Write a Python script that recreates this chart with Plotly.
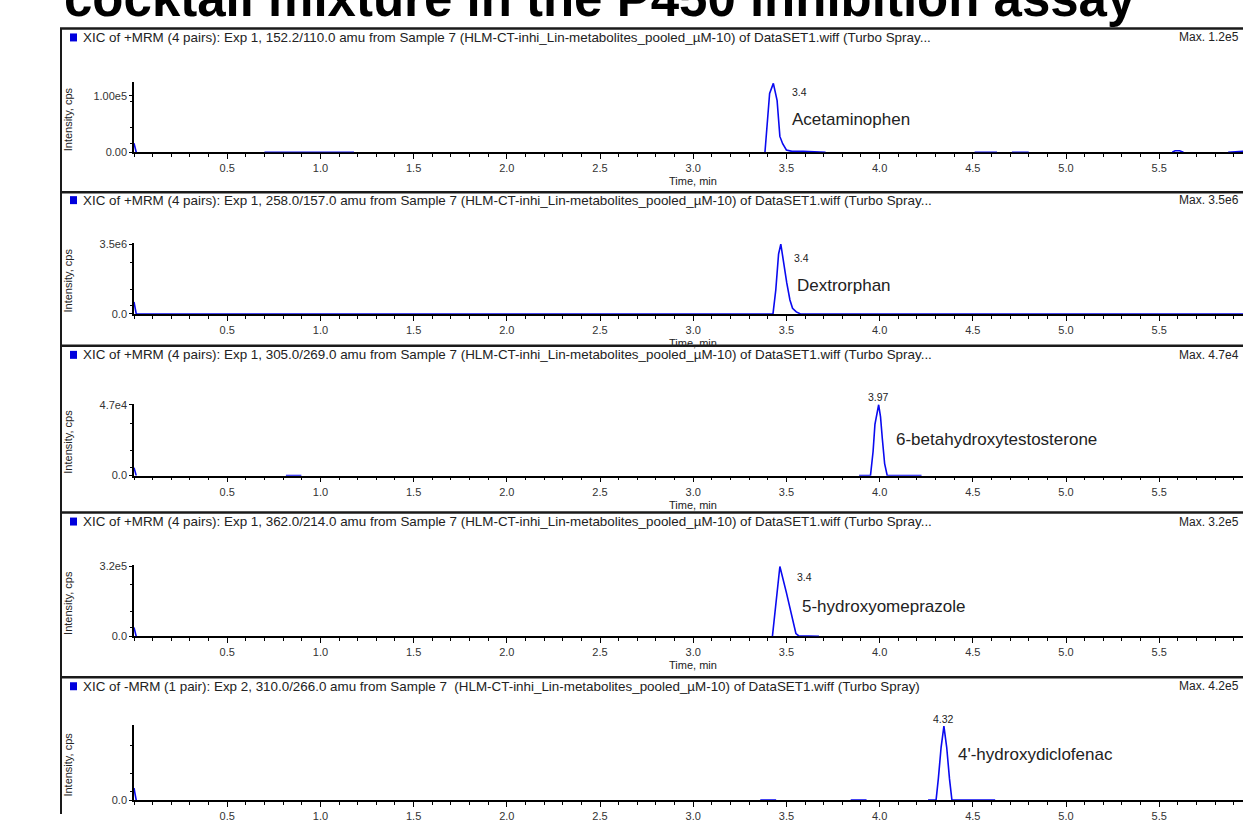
import plotly.graph_objects as go

W, H = 1243, 822

# ---------------- data ----------------
title_text = "cocktail mixture in the P450 inhibition assay"

headers = [
    "XIC of +MRM (4 pairs): Exp 1, 152.2/110.0 amu from Sample 7 (HLM-CT-inhi_Lin-metabolites_pooled_µM-10) of DataSET1.wiff (Turbo Spray...",
    "XIC of +MRM (4 pairs): Exp 1, 258.0/157.0 amu from Sample 7 (HLM-CT-inhi_Lin-metabolites_pooled_µM-10) of DataSET1.wiff (Turbo Spray...",
    "XIC of +MRM (4 pairs): Exp 1, 305.0/269.0 amu from Sample 7 (HLM-CT-inhi_Lin-metabolites_pooled_µM-10) of DataSET1.wiff (Turbo Spray...",
    "XIC of +MRM (4 pairs): Exp 1, 362.0/214.0 amu from Sample 7 (HLM-CT-inhi_Lin-metabolites_pooled_µM-10) of DataSET1.wiff (Turbo Spray...",
    "XIC of -MRM (1 pair): Exp 2, 310.0/266.0 amu from Sample 7  (HLM-CT-inhi_Lin-metabolites_pooled_µM-10) of DataSET1.wiff (Turbo Spray)",
]
max_labels = ["Max. 1.2e5", "Max. 3.5e6", "Max. 4.7e4", "Max. 3.2e5", "Max. 4.2e5"]
compounds = ["Acetaminophen", "Dextrorphan", "6-betahydroxytestosterone",
             "5-hydroxyomeprazole", "4'-hydroxydiclofenac"]
rt_labels = ["3.4", "3.4", "3.97", "3.4", "4.32"]
y_top_vals = [1.0e5, 3.5e6, 4.7e4, 3.2e5, None]
y_top_text = ["1.00e5", "3.5e6", "4.7e4", "3.2e5", ""]
y_zero_text = ["0.00", "0.0", "0.0", "0.0", "0.0"]
x_tick_vals = [0.5, 1.0, 1.5, 2.0, 2.5, 3.0, 3.5, 4.0, 4.5, 5.0, 5.5]
x_tick_text = ["0.5", "1.0", "1.5", "2.0", "2.5", "3.0", "3.5", "4.0", "4.5", "5.0", "5.5"]

# chromatograms (time, min / intensity, cps); None = trace hidden under axis line
time_1 = [0.0, 0.012, None, 0.70, 1.18, None,
          3.385, 3.396, 3.41, 3.43, 3.45, 3.465, 3.48, 3.50, 3.53, 3.59, 3.71, None,
          4.51, 4.63, None, 4.71, 4.80, None, 5.57, 5.585, 5.61, 5.63, None, 5.87, 5.95]
int_1 = [1.6e4, 0, None, 0, 0, None,
         0, 4.5e4, 1.04e5, 1.22e5, 9.2e4, 2.8e4, 1.5e4, 4e3, 1.5e3, 1.5e3, 0, None,
         0, 0, None, 0, 0, None, 0, 2.5e3, 2.5e3, 0, None, 0, 1.5e3]

time_2 = [0.0, 0.012, 0.02, 3.428, 3.443, 3.458, 3.47, 3.485, 3.502, 3.519, 3.533,
          3.553, 3.576, 5.95]
int_2 = [6.0e5, 0, 0, 0, 1.2e6, 3.0e6, 3.5e6, 2.5e6, 1.55e6, 7e5, 2.8e5, 1e5, 0, 0]

time_3 = [0.0, 0.012, None, 0.815, 0.898, None,
          3.89, 3.951, 3.965, 3.975, 3.995, 4.005, 4.015, 4.027, 4.041, 4.225]
int_3 = [5.3e3, 0, None, 0, 0, None,
         0, 0, 1.6e4, 3.4e4, 4.7e4, 3.9e4, 2.4e4, 8e3, 0, 0]

time_4 = [0.0, 0.012, None,
          3.425, 3.435, 3.445, 3.455, 3.465, 3.50, 3.533, 3.551, 3.565, 3.675]
int_4 = [4.1e4, 0, None,
         0, 8e4, 1.6e5, 2.5e5, 3.2e5, 2.0e5, 7.7e4, 1.3e4, 3e3, 0]

time_5 = [0.0, 0.012, None, 3.36, 3.445, None, 3.845, 3.93, None,
          4.26, 4.303, 4.315, 4.33, 4.345, 4.36, 4.375, 4.388, 4.62]
int_5 = [6.8e4, 0, None, 0, 0, None, 0, 0, None,
         0, 0, 1.2e5, 3.0e5, 4.2e5, 3.0e5, 1.2e5, 0, 0]

times = [time_1, time_2, time_3, time_4, time_5]
intens = [int_1, int_2, int_3, int_4, int_5]

# ---------------- layout (pixels) ----------------
sep_y = [28, 192, 346, 513, 678]
header_y = [37, 200, 355, 522, 687]
base_y = [152, 314, 476, 637, 801]
apex_y = [83, 244, 405, 567, 727]
axis_top_y = [82, 243, 404, 566, 726]
axis_left_x = 134
px_per_min = 186.4
# label offsets relative to apex (px)
rt_off = [(17, 9, "left"), (11, 14, "left"), (0, -8, "center"), (15, 11, "left"), (0, -7, "center")]
name_off = [(17, 36, "left"), (14, 41, "left"), (15, 35, "left"), (20, 40, "left"), (12, 28, "left")]

FONT = "Liberation Sans, Arial, sans-serif"
TXT = "#222222"
BLUE = "#0a0af0"

# vertical correction for the rendering (measured)
V_SCALE, V_OFF = 0.986, 4.5


def fy(y):
    return (y - V_OFF) / V_SCALE


def px(x):
    return x / W


def py(y):
    return 1 - fy(y) / H


fig = go.Figure()
layout = dict(
    width=W, height=H, margin=dict(l=0, r=0, t=0, b=0),
    paper_bgcolor="white", plot_bgcolor="white", showlegend=False,
    font=dict(family=FONT, color=TXT),
)
annotations = []
shapes = []

x_max = (W - axis_left_x) / px_per_min

for k in range(5):
    n = k + 1
    xa = "xaxis" if n == 1 else f"xaxis{n}"
    ya = "yaxis" if n == 1 else f"yaxis{n}"
    xr = "x" if n == 1 else f"x{n}"
    yr = "y" if n == 1 else f"y{n}"

    peak = max(v for v in intens[k] if v is not None)
    peak_t = times[k][intens[k].index(peak)]
    ymax = peak * (base_y[k] - axis_top_y[k]) / (base_y[k] - apex_y[k])

    fig.add_trace(go.Scatter(
        x=times[k], y=intens[k], mode="lines", xaxis=xr, yaxis=yr,
        line=dict(color=BLUE, width=1.6), connectgaps=False, hoverinfo="skip",
        cliponaxis=False,
    ))

    layout[xa] = dict(
        domain=[px(axis_left_x), 1], range=[0, x_max], anchor=yr,
        showline=True, linecolor="black", linewidth=1.5, showgrid=False, zeroline=False,
        tickmode="array", tickvals=x_tick_vals, ticktext=x_tick_text,
        ticks="outside", ticklen=5, tickwidth=1, tickcolor="black",
        tickfont=dict(size=11, color="#333333", family=FONT),
        minor=dict(tick0=0, dtick=0.1, ticks="outside", ticklen=3, tickwidth=1,
                   tickcolor="black", showgrid=False),
        layer="below traces", fixedrange=True,
    )
    tv = [0]
    tt = [y_zero_text[k]]
    if y_top_vals[k] is not None:
        tv.append(y_top_vals[k])
        tt.append(y_top_text[k])
    layout[ya] = dict(
        domain=[py(base_y[k]), py(axis_top_y[k])], range=[0, ymax], anchor=xr,
        showline=True, linecolor="black", linewidth=1.5, showgrid=False, zeroline=False,
        tickmode="array", tickvals=tv, ticktext=tt,
        ticks="outside", ticklen=3, tickwidth=1, tickcolor="black",
        tickfont=dict(size=11, color="#333333", family=FONT),
        minor=dict(tickmode="array", tickvals=[ymax * f for f in (0.12, 0.35, 0.73)],
                   ticks="outside", ticklen=2, tickwidth=1, tickcolor="black",
                   showgrid=False),
        layer="below traces", fixedrange=True,
    )

    # separator line + header
    shapes.append(dict(type="line", xref="paper", yref="paper",
                       x0=px(60), x1=1, y0=py(sep_y[k]), y1=py(sep_y[k]),
                       line=dict(color="#1a1a1a", width=2.5)))
    shapes.append(dict(type="rect", xref="paper", yref="paper",
                       x0=px(70), x1=px(77), y0=py(header_y[k] + 4), y1=py(header_y[k] - 4),
                       fillcolor="#0000dd", line=dict(width=0)))
    annotations.append(dict(text=headers[k], xref="paper", yref="paper",
                            x=px(81), y=py(header_y[k]), xanchor="left", yanchor="middle",
                            showarrow=False, font=dict(size=13.4, color=TXT, family=FONT)))
    annotations.append(dict(text=max_labels[k], xref="paper", yref="paper",
                            x=px(1241), y=py(header_y[k]), xanchor="right", yanchor="middle",
                            showarrow=False, font=dict(size=12, color=TXT, family=FONT)))
    # axis titles
    annotations.append(dict(text="Intensity, cps", xref="paper", yref="paper",
                            x=px(68), y=py((base_y[k] + axis_top_y[k]) / 2 + 2),
                            xanchor="center", yanchor="middle", textangle=-90,
                            showarrow=False, font=dict(size=11, color=TXT, family=FONT)))
    annotations.append(dict(text="Time, min", xref=xr, yref="paper",
                            x=3.0, y=py(base_y[k] + 29), xanchor="center", yanchor="middle",
                            showarrow=False, font=dict(size=11, color=TXT, family=FONT)))
    # peak labels
    dx, dy, anc = rt_off[k]
    annotations.append(dict(text=rt_labels[k], xref=xr, yref=yr, x=peak_t, y=peak,
                            xshift=dx, yshift=-dy, xanchor=anc, yanchor="middle",
                            showarrow=False, font=dict(size=10.5, color=TXT, family=FONT)))
    dx, dy, anc = name_off[k]
    annotations.append(dict(text=compounds[k], xref=xr, yref=yr, x=peak_t, y=peak,
                            xshift=dx, yshift=-dy, xanchor=anc, yanchor="middle",
                            showarrow=False, font=dict(size=17, color=TXT, family=FONT)))

# outer left border
shapes.append(dict(type="line", xref="paper", yref="paper",
                   x0=px(61), x1=px(61), y0=py(sep_y[0]), y1=0,
                   line=dict(color="#1a1a1a", width=2)))

# title (partly cut at the top)
annotations.append(dict(text="<b>" + title_text + "</b>", xref="paper", yref="paper",
                        x=px(600), y=py(29), xanchor="center", yanchor="bottom",
                        showarrow=False,
                        font=dict(size=51, color="black", family="Liberation Sans, Arial, sans-serif")))

layout["annotations"] = annotations
layout["shapes"] = shapes
fig.update_layout(**layout)
fig.write_html("out.html", config={"displayModeBar": False},
               post_script="document.body.style.margin='0';document.body.style.overflow='hidden';")
